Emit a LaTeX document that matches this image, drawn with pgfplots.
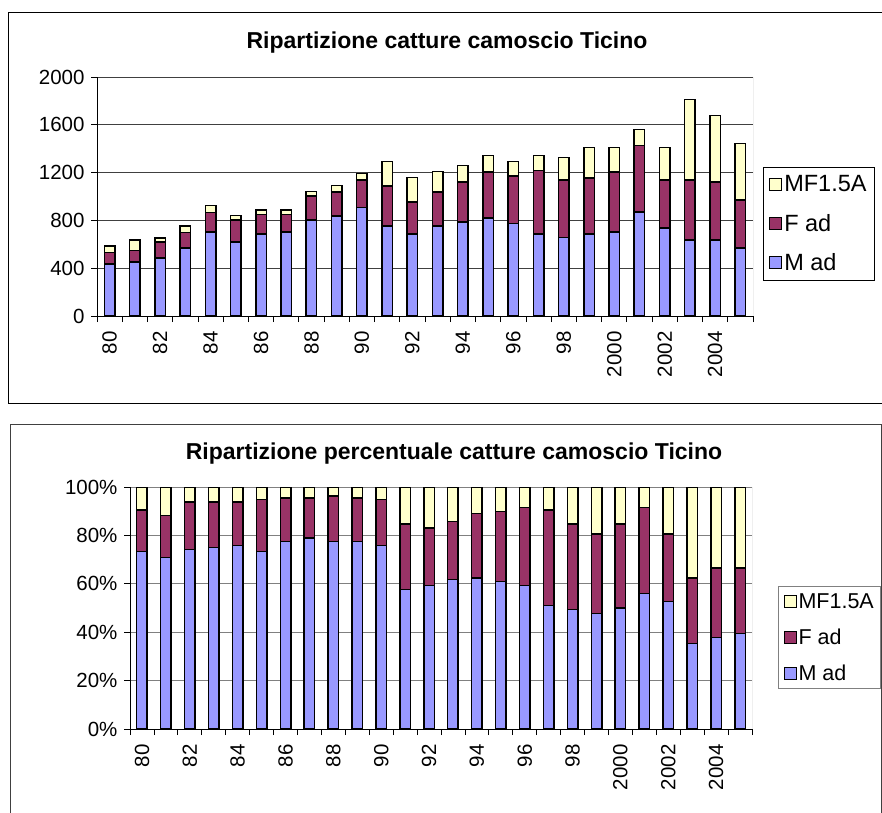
\documentclass[border=0pt]{standalone}
\usepackage{pgfplots}
\usepackage{pgfplotstable}
\pgfplotsset{compat=1.18}
\usepackage{fontspec}
\setmainfont{Liberation Sans}
\definecolor{madc}{HTML}{9999FF}
\definecolor{fadc}{HTML}{993366}
\definecolor{mfc}{HTML}{FFFFCC}

\pgfplotstableread{
x M F MF
0 434 97 56
1 453 95 87
2 484 134 36
3 571 128 56
4 702 165 56
5 621 182 36
6 688 162 39
7 702 148 39
8 803 201 36
9 836 202 53
10 906 230 55
11 755 333 204
12 688 266 204
13 755 283 170
14 786 336 137
15 820 383 140
16 772 400 120
17 688 531 124
18 655 483 188
19 688 467 255
20 705 498 207
21 870 556 135
22 738 400 272
23 638 500 674
24 638 484 556
25 571 400 472
}\abstab

\pgfplotstableread{
x M F MF
0 73.3 17.2 9.5
1 70.8 17.4 11.8
2 74.1 19.8 6.1
3 74.9 19.0 6.1
4 75.8 18.1 6.1
5 73.3 21.5 5.2
6 77.4 18.1 4.5
7 78.9 16.6 4.5
8 77.4 18.9 3.7
9 77.4 18.1 4.5
10 75.8 19.0 5.2
11 57.6 27.1 15.3
12 59.2 23.9 16.9
13 61.7 24.0 14.3
14 62.5 26.6 10.9
15 60.9 28.9 10.2
16 59.2 32.3 8.5
17 51.0 39.6 9.4
18 49.3 35.4 15.3
19 47.7 32.9 19.4
20 50.1 34.6 15.3
21 55.9 35.6 8.5
22 52.6 28.0 19.4
23 35.4 27.1 37.5
24 37.9 28.6 33.5
25 39.5 27.0 33.5
}\pcttab

\pgfplotsset{
  commonstyle/.style={
    ybar stacked, bar width=10.5pt, scale only axis,
    anchor=south west,
    xmin=-0.5, xmax=25.5,
    axis x line*=bottom, axis y line*=left,
    axis line style={black, line width=1pt},
    xtick={0,2,...,24},
    xticklabels={80,82,84,86,88,90,92,94,96,98,2000,2002,2004},
    minor xtick={-0.5,0.5,...,25.5},
    major tick length=0pt, minor tick length=6pt,
    xtick align=outside, ytick align=outside,
    xticklabel style={yshift=-12pt, rotate=90, anchor=east, font=\fontsize{20.5}{24}\selectfont},
    yticklabel style={font=\fontsize{20.5}{24}\selectfont, xshift=-9pt},
    tick style={black, line width=0.8pt},
    ymajorgrids,
    /pgf/number format/assume math mode=true,
    /pgf/number format/1000 sep={},
    every axis plot/.append style={draw=black, line width=1.5pt},
    legend image code/.code={\draw[#1, line width=1pt] (0pt,-6pt) rectangle (12pt,6pt);},
    reverse legend,
    legend cell align=left,
  }
}

\begin{document}
\begin{tikzpicture}
\useasboundingbox (0,0) rectangle (882pt,812pt);
% frames
\draw[black, line width=1pt] (8pt,409pt) rectangle (900pt,799pt);
\draw[black!75, line width=1pt] (10pt,388pt) rectangle (881pt,-20pt);
% titles
\node[font=\fontsize{23}{28}\selectfont\bfseries] at (447pt,769pt) {Ripartizione catture camoscio Ticino};
\node[font=\fontsize{23}{28}\selectfont\bfseries] at (454pt,358pt) {Ripartizione percentuale catture camoscio Ticino};

\begin{axis}[commonstyle,
  at={(97pt,496pt)}, width=656pt, height=239pt,
  ymin=0, ymax=2000, ytick={0,400,...,2000}, minor ytick={0,400,...,2000},
  major grid style={black!75, line width=0.9pt},
  legend style={at={(1.015,0.623)}, anchor=north west, draw=black, line width=0.8pt,
    font=\fontsize{23.5}{27}\selectfont, row sep=17pt, inner xsep=6pt, inner ysep=6pt},
]
\addplot[fill=madc] table[x=x, y=M] {\abstab};
\addplot[fill=fadc] table[x=x, y=F] {\abstab};
\addplot[fill=mfc] table[x=x, y=MF] {\abstab};
\legend{M ad, F ad, MF1.5A}
\draw[gray, line width=0.9pt] (rel axis cs:1,0) -- (rel axis cs:1,1);
\end{axis}

\begin{axis}[commonstyle,
  at={(130pt,83pt)}, width=622pt, height=242pt,
  ymin=0, ymax=100, ytick={0,20,...,100}, minor ytick={0,20,...,100},
  yticklabel={\pgfmathprintnumber{\tick}\%},
  major grid style={gray, line width=0.9pt},
  legend style={at={(1.042,0.591)}, anchor=north west, draw=gray, line width=0.8pt,
    font=\fontsize{21.5}{25}\selectfont, row sep=15pt, inner xsep=5pt, inner ysep=5pt},
]
\addplot[fill=madc] table[x=x, y=M] {\pcttab};
\addplot[fill=fadc] table[x=x, y=F] {\pcttab};
\addplot[fill=mfc] table[x=x, y=MF] {\pcttab};
\legend{M ad, F ad, MF1.5A}
\draw[gray, line width=0.9pt] (rel axis cs:1,0) -- (rel axis cs:1,1);
\end{axis}
\end{tikzpicture}
\end{document}
